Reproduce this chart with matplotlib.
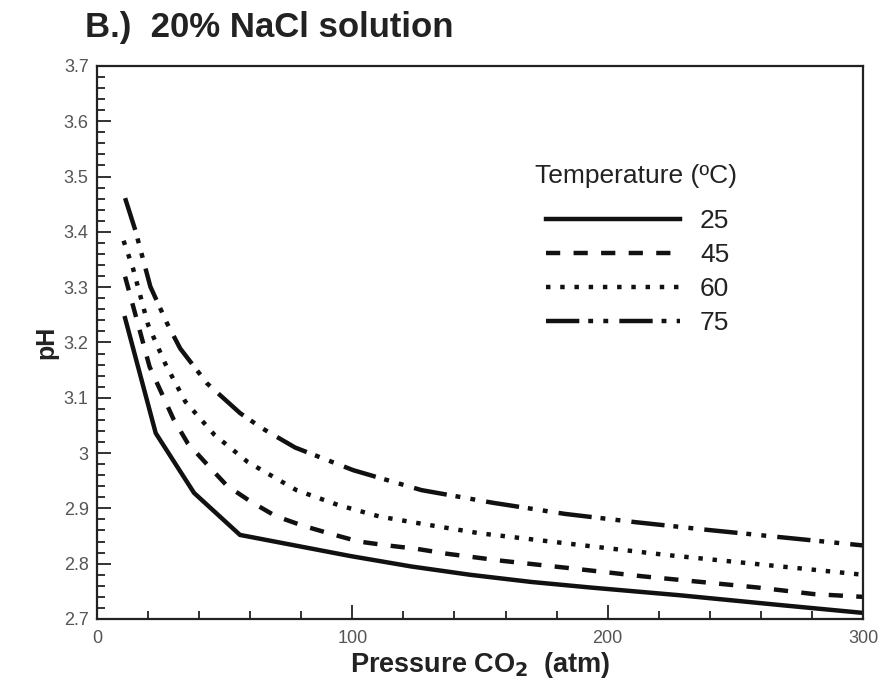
import matplotlib.pyplot as plt
from matplotlib.ticker import MultipleLocator, FixedLocator, FixedFormatter

plt.rcParams['font.family'] = ['Liberation Sans', 'DejaVu Sans']

# data (pressure in atm, pH)
p_25 = [11, 23, 38, 56, 99, 123, 146, 170, 193, 228, 268, 300]
ph_25 = [3.244, 3.036, 2.928, 2.852, 2.814, 2.795, 2.780, 2.767, 2.757, 2.743, 2.725, 2.711]

p_45 = [11, 14.6, 20.6, 30, 35.5, 43.4, 50.9, 60.3, 70, 80.4, 91.5, 102.6, 113.7,
        125, 137, 159, 183, 214, 236.5, 258.6, 280.8, 300]
ph_45 = [3.319, 3.258, 3.156, 3.061, 3.018, 2.978, 2.941, 2.912, 2.886, 2.869, 2.854,
         2.840, 2.833, 2.827, 2.818, 2.805, 2.793, 2.777, 2.767, 2.757, 2.745, 2.740]

p_60 = [10.4, 14.1, 20, 26.8, 34.6, 46, 59, 78.1, 94.5, 110.9, 127.4, 149.8, 172.2,
        194.4, 222.5, 250.5, 278.6, 300]
ph_60 = [3.384, 3.334, 3.232, 3.161, 3.093, 3.033, 2.984, 2.933, 2.906, 2.885, 2.872,
         2.855, 2.843, 2.831, 2.816, 2.803, 2.790, 2.780]

p_75 = [11, 15, 20.9, 27.4, 32.6, 43.1, 56.1, 64.6, 77.6, 100.4, 127.1, 155.2, 183.3,
        211, 239.4, 267.5, 300]
ph_75 = [3.461, 3.403, 3.301, 3.235, 3.189, 3.126, 3.072, 3.045, 3.010, 2.969, 2.933,
         2.910, 2.890, 2.875, 2.861, 2.848, 2.833]

temps = ["25", "45", "60", "75"]

x_ticks = [0, 100, 200, 300]
x_tick_labels = ["0", "100", "200", "300"]
y_ticks = [2.7, 2.8, 2.9, 3.0, 3.1, 3.2, 3.3, 3.4, 3.5, 3.6, 3.7]
y_tick_labels = ["2.7", "2.8", "2.9", "3", "3.1", "3.2", "3.3", "3.4", "3.5", "3.6", "3.7"]

fig = plt.figure(figsize=(8.94, 6.82), dpi=100)
ax = fig.add_axes([0.1085, 0.0924, 0.8568, 0.8109])

lw = 3.2
styles = [
    "-",
    (0, (3.2, 3.0)),
    (0, (1.0, 2.2)),
    (0, (7.5, 2.0, 1.1, 2.3, 1.1, 2.5)),
]
series = [(p_25, ph_25), (p_45, ph_45), (p_60, ph_60), (p_75, ph_75)]
for (xs, ys), ls, lab in zip(series, styles, temps):
    ax.plot(xs, ys, color="#111111", lw=lw, linestyle=ls, label=lab,
            solid_joinstyle="miter", dash_capstyle="butt")

ax.set_xlim(0, 300)
ax.set_ylim(2.7, 3.7)

ax.xaxis.set_major_locator(FixedLocator(x_ticks))
ax.xaxis.set_major_formatter(FixedFormatter(x_tick_labels))
ax.yaxis.set_major_locator(FixedLocator(y_ticks))
ax.yaxis.set_major_formatter(FixedFormatter(y_tick_labels))
ax.xaxis.set_minor_locator(MultipleLocator(20))
ax.yaxis.set_minor_locator(MultipleLocator(0.02))

ax.tick_params(which="both", direction="in", top=False, right=False,
               color="#222222", width=1.3)
ax.tick_params(which="major", length=10)
ax.tick_params(which="minor", length=5.5)
ax.tick_params(axis="y", which="major", labelsize=13, labelcolor="#555555", pad=6)
ax.tick_params(axis="x", which="major", labelsize=13, labelcolor="#555555", pad=8)
for sp in ax.spines.values():
    sp.set_linewidth(1.6)
    sp.set_color("#222222")

ax.set_xlabel("Pressure CO$_\\mathbf{2}$  (atm)", fontsize=19.5, fontweight="bold",
              color="#222222", labelpad=2)
ax.set_ylabel("pH", fontsize=18, fontweight="bold", color="#222222", labelpad=4)

fig.text(85 / 894, 1 - 27 / 682, "B.)  20% NaCl solution", fontsize=25,
         fontweight="bold", color="#222222", ha="left", va="center")

# legend title drawn separately so the gap below it can match
ax.text(0.704, 0.801, "Temperature (ºC)", transform=ax.transAxes, fontsize=19,
        color="#222222", ha="center", va="center")
ax.legend(loc="center", bbox_to_anchor=(0.7056, 0.627), frameon=False,
          fontsize=19, handlelength=5.1, handletextpad=0.75, labelspacing=0.38,
          borderpad=0, borderaxespad=0, labelcolor="#222222")

fig.savefig("out.png", dpi=100, facecolor="white")
